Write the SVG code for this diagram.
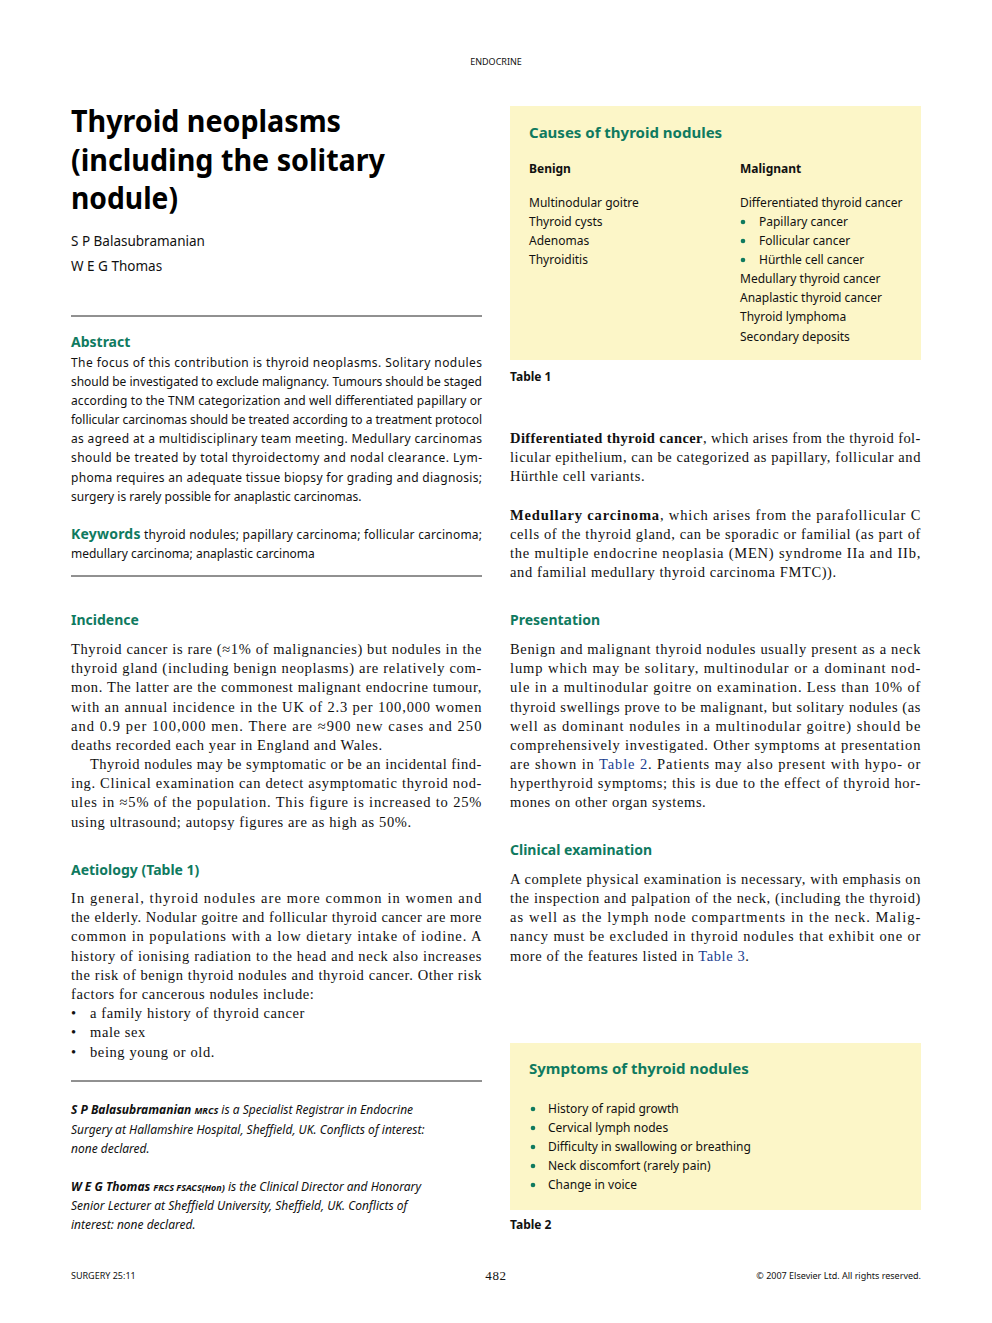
<svg xmlns="http://www.w3.org/2000/svg" width="992" height="1323" viewBox="0 0 992 1323">
<style>
.s{font-family:"Noto Sans","Liberation Sans",sans-serif;font-size:12px;fill:#111}
.sb{font-family:"Noto Sans","Liberation Sans",sans-serif;font-size:12px;font-weight:bold;fill:#111}
.h{font-family:"Noto Sans","Liberation Sans",sans-serif;font-size:14px;font-weight:bold;fill:#0f7a5f}
.hb{font-family:"Noto Sans","Liberation Sans",sans-serif;font-size:15px;font-weight:bold;fill:#0f7a5f}
.t{font-family:"Liberation Serif",serif;font-size:14.5px;fill:#111;letter-spacing:0.6px}
.tb{font-weight:bold}
.i{font-family:"Noto Sans","Liberation Sans",sans-serif;font-size:12px;font-style:italic;fill:#111}
.title{font-family:"Noto Sans","Liberation Sans",sans-serif;font-size:31px;font-weight:bold;fill:#000}
.box{fill:#fcf6c8}
.rule{stroke:#222;stroke-width:1}
.lk{fill:#1a3d8f}
.dot{fill:#0f7a5f}
.sm{font-family:"Noto Sans","Liberation Sans",sans-serif;font-size:9px;fill:#111}
</style>
<rect width="992" height="1323" fill="#fff"/>
<text class="sm" x="496" y="65" text-anchor="middle">ENDOCRINE</text>

<text class="title" x="71" y="132" textLength="270" lengthAdjust="spacingAndGlyphs">Thyroid neoplasms</text>
<text class="title" x="71" y="171" textLength="314" lengthAdjust="spacingAndGlyphs">(including the solitary</text>
<text class="title" x="71" y="209" textLength="107" lengthAdjust="spacingAndGlyphs">nodule)</text>
<text class="s" x="71" y="246" style="font-size:13.5px">S P Balasubramanian</text>
<text class="s" x="71" y="271" style="font-size:13.5px">W E G Thomas</text>
<line class="rule" x1="71" y1="316" x2="482" y2="316"/>
<text class="h" x="71" y="347">Abstract</text>
<g class="s">
<text x="71" y="367" textLength="411" lengthAdjust="spacing">The focus of this contribution is thyroid neoplasms. Solitary nodules</text>
<text x="71" y="386" textLength="411" lengthAdjust="spacing">should be investigated to exclude malignancy. Tumours should be staged</text>
<text x="71" y="405" textLength="411" lengthAdjust="spacing">according to the TNM categorization and well differentiated papillary or</text>
<text x="71" y="424" textLength="411" lengthAdjust="spacing">follicular carcinomas should be treated according to a treatment protocol</text>
<text x="71" y="443" textLength="411" lengthAdjust="spacing">as agreed at a multidisciplinary team meeting. Medullary carcinomas</text>
<text x="71" y="462" textLength="411" lengthAdjust="spacing">should be treated by total thyroidectomy and nodal clearance. Lym-</text>
<text x="71" y="482" textLength="411" lengthAdjust="spacing">phoma requires an adequate tissue biopsy for grading and diagnosis;</text>
<text x="71" y="501">surgery is rarely possible for anaplastic carcinomas.</text>
<text x="71" y="539" textLength="411" lengthAdjust="spacing"><tspan class="h">Keywords</tspan> thyroid nodules; papillary carcinoma; follicular carcinoma;</text>
<text x="71" y="558">medullary carcinoma; anaplastic carcinoma</text>
</g>
<line class="rule" x1="71" y1="576" x2="482" y2="576"/>

<text class="h" x="71" y="625">Incidence</text>
<g class="t">
<text x="71" y="654" textLength="411" lengthAdjust="spacing">Thyroid cancer is rare (≈1% of malignancies) but nodules in the</text>
<text x="71" y="673" textLength="411" lengthAdjust="spacing">thyroid gland (including benign neoplasms) are relatively com-</text>
<text x="71" y="692" textLength="411" lengthAdjust="spacing">mon. The latter are the commonest malignant endocrine tumour,</text>
<text x="71" y="712" textLength="411" lengthAdjust="spacing">with an annual incidence in the UK of 2.3 per 100,000 women</text>
<text x="71" y="731" textLength="411" lengthAdjust="spacing">and 0.9 per 100,000 men. There are ≈900 new cases and 250</text>
<text x="71" y="750">deaths recorded each year in England and Wales.</text>
<text x="90" y="769" textLength="392" lengthAdjust="spacing">Thyroid nodules may be symptomatic or be an incidental find-</text>
<text x="71" y="788" textLength="411" lengthAdjust="spacing">ing. Clinical examination can detect asymptomatic thyroid nod-</text>
<text x="71" y="807" textLength="411" lengthAdjust="spacing">ules in ≈5% of the population. This figure is increased to 25%</text>
<text x="71" y="827">using ultrasound; autopsy figures are as high as 50%.</text>
</g>
<text class="h" x="71" y="875">Aetiology (Table 1)</text>
<g class="t">
<text x="71" y="903" textLength="411" lengthAdjust="spacing">In general, thyroid nodules are more common in women and</text>
<text x="71" y="922" textLength="411" lengthAdjust="spacing">the elderly. Nodular goitre and follicular thyroid cancer are more</text>
<text x="71" y="941" textLength="411" lengthAdjust="spacing">common in populations with a low dietary intake of iodine. A</text>
<text x="71" y="961" textLength="411" lengthAdjust="spacing">history of ionising radiation to the head and neck also increases</text>
<text x="71" y="980" textLength="411" lengthAdjust="spacing">the risk of benign thyroid nodules and thyroid cancer. Other risk</text>
<text x="71" y="999">factors for cancerous nodules include:</text>
<text x="71" y="1018">•</text><text x="90" y="1018">a family history of thyroid cancer</text>
<text x="71" y="1037">•</text><text x="90" y="1037">male sex</text>
<text x="71" y="1057">•</text><text x="90" y="1057">being young or old.</text>
</g>
<line class="rule" x1="71" y1="1081" x2="482" y2="1081"/>
<g class="i">
<text x="71" y="1114"><tspan font-weight="bold">S P Balasubramanian</tspan> <tspan font-weight="bold" font-size="9">MRCS</tspan> is a Specialist Registrar in Endocrine</text>
<text x="71" y="1134">Surgery at Hallamshire Hospital, Sheffield, UK. Conflicts of interest:</text>
<text x="71" y="1153">none declared.</text>
<text x="71" y="1191"><tspan font-weight="bold">W E G Thomas</tspan> <tspan font-weight="bold" font-size="9">FRCS FSACS(Hon)</tspan> is the Clinical Director and Honorary</text>
<text x="71" y="1210">Senior Lecturer at Sheffield University, Sheffield, UK. Conflicts of</text>
<text x="71" y="1229">interest: none declared.</text>
</g>

<g id="table1">
<rect class="box" x="510" y="106" width="411" height="254"/>
<text class="hb" x="529" y="138">Causes of thyroid nodules</text>
<text class="sb" x="529" y="173">Benign</text>
<text class="sb" x="740" y="173">Malignant</text>
<g class="s">
<text x="529" y="207">Multinodular goitre</text>
<text x="529" y="226">Thyroid cysts</text>
<text x="529" y="245">Adenomas</text>
<text x="529" y="264">Thyroiditis</text>
<text x="740" y="207">Differentiated thyroid cancer</text>
<text x="759" y="226">Papillary cancer</text>
<text x="759" y="245">Follicular cancer</text>
<text x="759" y="264">Hürthle cell cancer</text>
<text x="740" y="283">Medullary thyroid cancer</text>
<text x="740" y="302">Anaplastic thyroid cancer</text>
<text x="740" y="321">Thyroid lymphoma</text>
<text x="740" y="341">Secondary deposits</text>
</g>
<circle class="dot" cx="743" cy="222" r="2.3"/>
<circle class="dot" cx="743" cy="241" r="2.3"/>
<circle class="dot" cx="743" cy="260" r="2.3"/>
<text class="sb" x="510" y="381">Table 1</text>
</g>

<g class="t">
<text x="510" y="443" textLength="411" lengthAdjust="spacing"><tspan class="tb">Differentiated thyroid cancer</tspan>, which arises from the thyroid fol-</text>
<text x="510" y="462" textLength="411" lengthAdjust="spacing">licular epithelium, can be categorized as papillary, follicular and</text>
<text x="510" y="481">Hürthle cell variants.</text>
<text x="510" y="520" textLength="411" lengthAdjust="spacing"><tspan class="tb">Medullary carcinoma</tspan>, which arises from the parafollicular C</text>
<text x="510" y="539" textLength="411" lengthAdjust="spacing">cells of the thyroid gland, can be sporadic or familial (as part of</text>
<text x="510" y="558" textLength="411" lengthAdjust="spacing">the multiple endocrine neoplasia (MEN) syndrome IIa and IIb,</text>
<text x="510" y="577">and familial medullary thyroid carcinoma FMTC)).</text>
</g>
<text class="h" x="510" y="625">Presentation</text>
<g class="t">
<text x="510" y="654" textLength="411" lengthAdjust="spacing">Benign and malignant thyroid nodules usually present as a neck</text>
<text x="510" y="673" textLength="411" lengthAdjust="spacing">lump which may be solitary, multinodular or a dominant nod-</text>
<text x="510" y="692" textLength="411" lengthAdjust="spacing">ule in a multinodular goitre on examination. Less than 10% of</text>
<text x="510" y="712" textLength="411" lengthAdjust="spacing">thyroid swellings prove to be malignant, but solitary nodules (as</text>
<text x="510" y="731" textLength="411" lengthAdjust="spacing">well as dominant nodules in a multinodular goitre) should be</text>
<text x="510" y="750" textLength="411" lengthAdjust="spacing">comprehensively investigated. Other symptoms at presentation</text>
<text x="510" y="769" textLength="411" lengthAdjust="spacing">are shown in <tspan class="lk">Table 2</tspan>. Patients may also present with hypo- or</text>
<text x="510" y="788" textLength="411" lengthAdjust="spacing">hyperthyroid symptoms; this is due to the effect of thyroid hor-</text>
<text x="510" y="807">mones on other organ systems.</text>
</g>
<text class="h" x="510" y="855">Clinical examination</text>
<g class="t">
<text x="510" y="884" textLength="411" lengthAdjust="spacing">A complete physical examination is necessary, with emphasis on</text>
<text x="510" y="903" textLength="411" lengthAdjust="spacing">the inspection and palpation of the neck, (including the thyroid)</text>
<text x="510" y="922" textLength="411" lengthAdjust="spacing">as well as the lymph node compartments in the neck. Malig-</text>
<text x="510" y="941" textLength="411" lengthAdjust="spacing">nancy must be excluded in thyroid nodules that exhibit one or</text>
<text x="510" y="961">more of the features listed in <tspan class="lk">Table 3</tspan>.</text>
</g>

<g id="table2">
<rect class="box" x="510" y="1043" width="411" height="167"/>
<text class="hb" x="529" y="1074">Symptoms of thyroid nodules</text>
<g class="s">
<text x="548" y="1113">History of rapid growth</text>
<text x="548" y="1132">Cervical lymph nodes</text>
<text x="548" y="1151">Difficulty in swallowing or breathing</text>
<text x="548" y="1170">Neck discomfort (rarely pain)</text>
<text x="548" y="1189">Change in voice</text>
</g>
<circle class="dot" cx="533" cy="1109" r="2.3"/>
<circle class="dot" cx="533" cy="1128" r="2.3"/>
<circle class="dot" cx="533" cy="1147" r="2.3"/>
<circle class="dot" cx="533" cy="1166" r="2.3"/>
<circle class="dot" cx="533" cy="1185" r="2.3"/>
<text class="sb" x="510" y="1229">Table 2</text>
</g>

<text class="sm" x="71" y="1279">SURGERY 25:11</text>
<text class="t" x="496" y="1280" text-anchor="middle" style="font-size:13px">482</text>
<text class="sm" x="921" y="1279" text-anchor="end">© 2007 Elsevier Ltd. All rights reserved.</text>
</svg>
